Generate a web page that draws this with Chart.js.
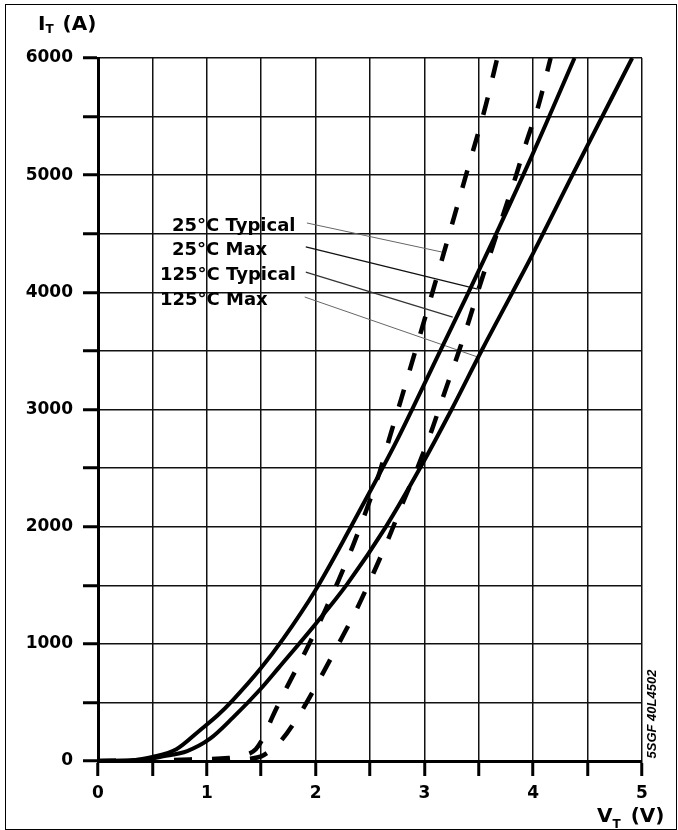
<!DOCTYPE html>
<html><head><meta charset="utf-8">
<script src="https://cdn.jsdelivr.net/npm/chart.js@4.4.1/dist/chart.umd.min.js"></script>
<style>
html,body{margin:0;padding:0;background:#fff;}
#wrap{position:relative;width:678px;height:830px;overflow:hidden;}
canvas{position:absolute;left:0;top:0;}
.t{position:absolute;font-family:"DejaVu Sans",sans-serif;font-weight:bold;color:#000;white-space:nowrap;line-height:1;}
.code{position:absolute;font-family:"Liberation Sans",Arial,sans-serif;font-weight:bold;font-style:italic;font-size:13px;line-height:1;white-space:nowrap;transform:translate(-50%,-50%) rotate(-90deg);}
</style></head><body>
<div id="wrap">
<canvas id="c" width="678" height="830"></canvas>
<div class="t" style="left:38px;top:13px;font-size:20px;">I<span style="position:relative;top:3px;font-size:12px;">T</span><span style="margin-left:2px;"> (A)</span></div>
<div class="t" style="left:597px;top:805px;font-size:20px;">V<span style="position:relative;top:6px;font-size:12px;">T</span><span style="margin-left:3px;"> (V)</span></div>
<div id="labels"></div>
<div class="code" style="left:651px;top:714px;">5SGF 40L4502</div>
</div>
<script>
// ---- data ----
const seriesLabels = ['25\u00B0C Typical', '25\u00B0C Max', '125\u00B0C Typical', '125\u00B0C Max'];

const v25Typ = [0, 0.5, 0.9, 1.2, 1.35, 1.45, 1.52, 1.6, 1.72, 1.92, 2.09, 2.21, 2.34, 2.45, 2.59, 2.68, 2.79, 2.98, 3.18, 3.37, 3.565, 3.67];
const i25Typ = [0, 5, 15, 25, 50, 100, 200, 370, 600, 960, 1290, 1540, 1830, 2100, 2470, 2760, 3100, 3700, 4340, 4960, 5600, 6000];

const v25Max = [0, 0.8, 1.2, 1.4, 1.5, 1.6, 1.68, 1.88, 2.05, 2.2, 2.38, 2.53, 2.67, 2.8, 2.94, 3.07, 3.18, 3.3, 3.41, 3.51, 3.62, 3.73, 3.84, 3.94, 4.05, 4.16];
const i25Max = [0, 5, 10, 20, 40, 100, 170, 440, 720, 980, 1300, 1600, 1900, 2200, 2510, 2830, 3130, 3450, 3760, 4060, 4370, 4680, 4990, 5290, 5600, 6000];

const v125Typ = [0, 0.3, 0.5, 0.72, 0.94, 1.1, 1.24, 1.5, 1.7, 2.0, 2.32, 2.5, 2.75, 3.14, 3.39, 3.65, 4.0, 4.38];
const i125Typ = [0, 5, 35, 100, 265, 390, 520, 795, 1040, 1460, 1990, 2300, 2740, 3490, 3970, 4480, 5190, 6000];

const v125Max = [0, 0.4, 0.6, 0.82, 1.03, 1.24, 1.49, 1.66, 2.0, 2.29, 2.65, 2.96, 3.25, 3.53, 3.81, 4.0, 4.36, 4.91];
const i125Max = [0, 10, 40, 85, 190, 370, 610, 795, 1170, 1510, 2005, 2500, 3000, 3510, 4000, 4335, 5000, 6000];

const xTickLabels = ['0', '1', '2', '3', '4', '5'];
const yTickLabels = ['0', '1000', '2000', '3000', '4000', '5000', '6000'];

// ---- annotation layout (label text positions and leader line ends in axis units) ----
const labelBoxes = [
  {left:172, top:216},
  {left:172, top:240},
  {left:160, top:265},
  {left:160, top:290}
];
const leaders = [
  {from:[1.92, 4592], to:[3.16, 4344], color:'#666', width:1},
  {from:[1.91, 4387], to:[3.49, 4028], color:'#111', width:1.3},
  {from:[1.91, 4173], to:[3.26, 3789], color:'#333', width:1.2},
  {from:[1.90, 3960], to:[3.49, 3448], color:'#666', width:1}
];

const labelsDiv = document.getElementById('labels');
seriesLabels.forEach((s, k) => {
  const d = document.createElement('div');
  d.className = 't';
  d.style.left = labelBoxes[k].left + 'px';
  d.style.top = labelBoxes[k].top + 'px';
  d.style.fontSize = '18px';
  d.textContent = s;
  labelsDiv.appendChild(d);
});

function pts(v, i) { return v.map((x, k) => ({x: x, y: i[k]})); }

const leaderPlugin = {
  id: 'leaders',
  beforeDatasetsDraw(chart) {
    const {ctx, scales:{x, y}} = chart;
    ctx.save();
    leaders.forEach(l => {
      ctx.beginPath();
      ctx.strokeStyle = l.color;
      ctx.lineWidth = l.width;
      ctx.moveTo(x.getPixelForValue(l.from[0]), y.getPixelForValue(l.from[1]));
      ctx.lineTo(x.getPixelForValue(l.to[0]), y.getPixelForValue(l.to[1]));
      ctx.stroke();
    });
    ctx.restore();
  },
  afterDraw(chart) {
    const ctx = chart.ctx;
    ctx.save();
    ctx.strokeStyle = '#000';
    ctx.lineWidth = 1;
    ctx.strokeRect(5.5, 4.5, 671, 825);
    ctx.restore();
  }
};

const common = {borderColor:'#000', pointRadius:0, fill:false, cubicInterpolationMode:'monotone', borderCapStyle:'butt'};
const tickFont = {family: 'DejaVu Sans', size: 17, weight: 'bold'};

new Chart(document.getElementById('c'), {
  type: 'line',
  data: {
    datasets: [
      Object.assign({label: seriesLabels[0], data: pts(v25Typ, i25Typ), borderWidth: 4.5, borderDash: [18, 20]}, common),
      Object.assign({label: seriesLabels[1], data: pts(v25Max, i25Max), borderWidth: 4.5, borderDash: [18, 20]}, common),
      Object.assign({label: seriesLabels[2], data: pts(v125Typ, i125Typ), borderWidth: 4}, common),
      Object.assign({label: seriesLabels[3], data: pts(v125Max, i125Max), borderWidth: 4}, common)
    ]
  },
  options: {
    responsive: false,
    animation: false,
    events: [],
    layout: {padding: {left: 0, top: 58, right: 36, bottom: 0}},
    plugins: {legend: {display: false}, tooltip: {enabled: false}},
    scales: {
      x: {
        type: 'linear', min: 0, max: 5,
        afterFit: s => { s.height = 69; },
        ticks: {
          stepSize: 0.5, autoSkip: false, maxRotation: 0, minRotation: 0, padding: 7, color: '#000',
          font: tickFont,
          callback: v => Number.isInteger(v) ? xTickLabels[v] : ''
        },
        grid: {color: '#111', lineWidth: 1.5, tickLength: 15, tickWidth: 3, tickColor: '#000'},
        border: {color: '#000', width: 3}
      },
      y: {
        type: 'linear', min: 0, max: 6000,
        afterFit: s => { s.width = 98; },
        ticks: {
          stepSize: 500, autoSkip: false, padding: 10, color: '#000',
          font: tickFont,
          callback: v => (v % 1000 === 0) ? yTickLabels[v / 1000] : ''
        },
        grid: {color: '#111', lineWidth: 1.5, tickLength: 15, tickWidth: 3, tickColor: '#000'},
        border: {color: '#000', width: 3}
      }
    }
  },
  plugins: [leaderPlugin]
});
</script>
</body></html>
